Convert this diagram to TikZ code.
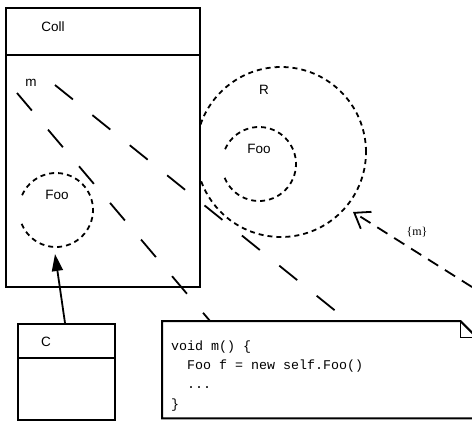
\documentclass[tikz,border=0pt]{standalone}
\usepackage{fontspec}
\setmainfont{Liberation Sans}
\newfontfamily\codefont{Liberation Mono}
\newfontfamily\bracefont{Liberation Serif}
\usetikzlibrary{arrows.meta}
\begin{document}
\begin{tikzpicture}[x=1pt,y=-1pt,
  box/.style={draw=black, line width=2pt, fill=white, inner sep=0pt},
  lbl/.style={font=\fontsize{13.5}{16}\selectfont, inner sep=0pt},
  circ/.style={draw=black, line width=1.8pt, dash pattern=on 5pt off 4pt},
  link/.style={line width=1.8pt, dash pattern=on 23pt off 25pt},
  msg/.style={line width=1.8pt, dash pattern=on 12pt off 8pt, -{Straight Barb[length=14pt,width=20pt,line width=1.8pt]}},
  assoc/.style={line width=1.8pt, -{Triangle[length=17pt,width=11pt]}},
]
\clip (0,0) rectangle (472,424);
\fill[white] (0,0) rectangle (472,424);

% outer scope R
\node[circle, circ, minimum size=170pt, inner sep=0pt] (R) at (281,152) {};

% class Coll
\node[box, minimum width=194pt, minimum height=279pt, anchor=north west] (coll) at (5,7) {};
\draw[line width=2pt] (5,55) -- (199,55);

% class C
\node[box, minimum width=97pt, minimum height=96pt, anchor=north west] (cbox) at (17,323) {};
\draw[line width=2pt] (17,358) -- (114,358);

% note
\node[inner sep=0pt, minimum width=314pt, minimum height=97pt, anchor=north west] (note) at (162,321) {};
\draw[box] (note.north west) -- ([xshift=-16pt]note.north east) -- ([yshift=-16pt]note.north east)
  -- (note.south east) -- (note.south west) -- cycle;
\draw[line width=1pt] ([xshift=-16pt]note.north east) -- ([xshift=-16pt,yshift=-16pt]note.north east)
  -- ([yshift=-16pt]note.north east);

% Foo circles (arcs with a gap on the left)
\coordinate (fooA) at (56,210);
\coordinate (fooB) at (259,164);
\draw[circ] (fooA) ++(158:37) arc[start angle=158, end angle=-158, radius=37];
\draw[circ] (fooB) ++(158:37) arc[start angle=158, end angle=-158, radius=37];
\coordinate (fooAbot) at (55,254);

% labels
\node[lbl] (tColl) at (53,27) {Coll};
\node[lbl] (tm) at (31,83) {m};
\node[lbl] (tFooA) at (57,195) {Foo};
\node[lbl] (tR) at (264,90) {R};
\node[lbl] (tFooB) at (259,149) {Foo};
\node[lbl] (tC) at (46,342) {C};

% code in note (base anchor = baseline of last line)
\node[anchor=base west, inner sep=0pt, align=left, font=\codefont\fontsize{13.33}{19.33}\selectfont] (code) at (171,408)
  {void m() \{\\\hspace*{16pt}Foo f = new self.Foo()\\\hspace*{16pt}...\\\}};

% dashed links from m to the note
\coordinate (l1s) at (17,93);
\coordinate (l1e) at (210,321);
\coordinate (l2s) at (55,85);
\coordinate (l2e) at (348,321);
\draw[link] (l1s) -- (l1e);
\draw[link] (l2s) -- (l2e);

% message arrow {m}
\coordinate (mtail) at (472,287);
\coordinate (mhead) at (353,212);
\draw[msg] (mtail) -- (mhead);
\node[inner sep=0pt, font=\bracefont\fontsize{12}{14}\selectfont] (tmsg) at (417,232) {\{m\}};

% association C -> Foo
\draw[assoc] (cbox.north west -| 65,0) -- (fooAbot);
\end{tikzpicture}
\end{document}
